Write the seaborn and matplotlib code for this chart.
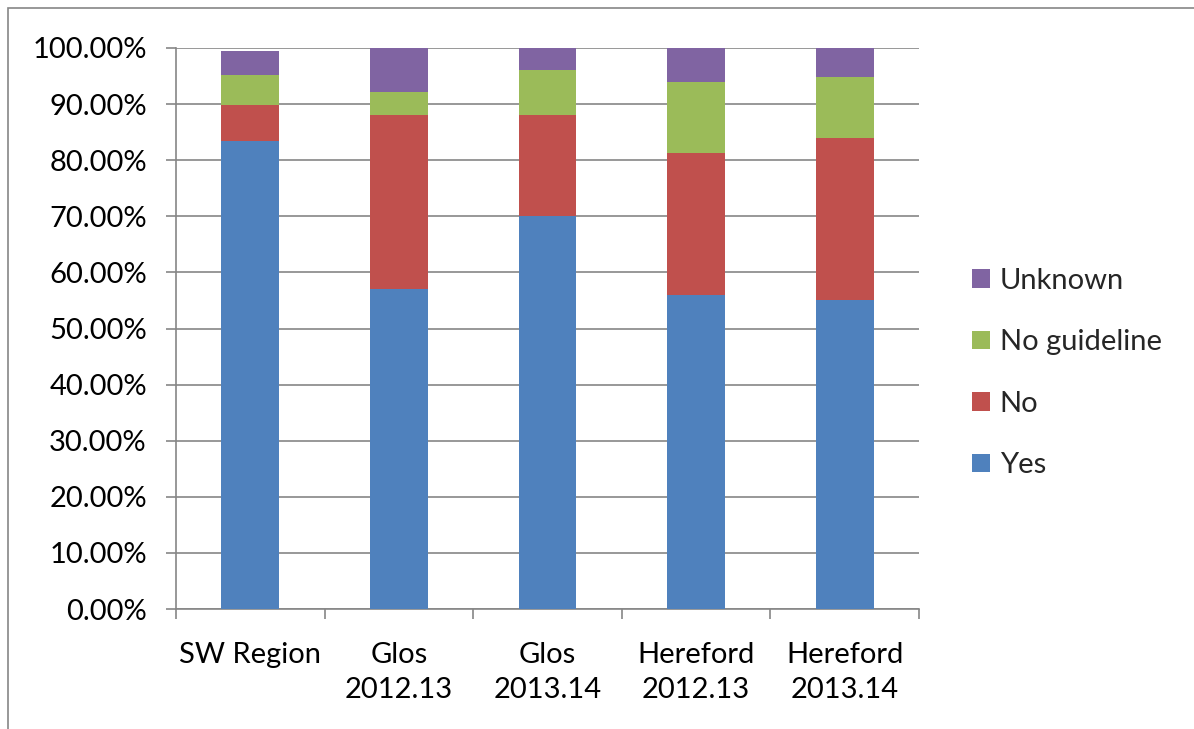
import matplotlib
matplotlib.use("Agg")
import matplotlib.pyplot as plt
import seaborn as sns
import pandas as pd
import numpy as np
from matplotlib.patches import Patch, Rectangle
from matplotlib.ticker import FuncFormatter, FixedLocator

categories = ["SW Region", "Glos\n2012.13", "Glos\n2013.14", "Hereford\n2012.13", "Hereford\n2013.14"]
yes = [83.4, 57.0, 70.0, 56.0, 55.0]
no = [6.4, 31.0, 18.0, 25.2, 29.0]
no_guideline = [5.4, 4.1, 8.1, 12.8, 10.9]
unknown = [4.3, 7.9, 3.9, 6.0, 5.1]
series_names = ["Yes", "No", "No guideline", "Unknown"]
colors = ["#4F81BD", "#C0504D", "#9BBB59", "#8064A2"]

sns.set_theme(style="white")
plt.rcParams["font.family"] = ["Lato", "DejaVu Sans"]

FS = 21

fig = plt.figure(figsize=(11.94, 7.29), dpi=100)
ax = fig.add_axes([176/1194, 1-609/729, (919-176)/1194, (609-48)/729])

series = [yes, no, no_guideline, unknown]
cum = np.cumsum(np.array(series), axis=0)
# draw tallest stacks first so each layer's visible part shows
for i in range(len(series) - 1, -1, -1):
    df = pd.DataFrame({"cat": categories, "val": cum[i]})
    sns.barplot(data=df, x="cat", y="val", color=colors[i], saturation=1,
                width=0.39, ax=ax, zorder=3, linewidth=0)

ax.set_ylim(0, 100)
ax.set_xlim(-0.5, 4.5)
ax.yaxis.set_major_locator(FixedLocator(np.arange(0, 101, 10)))
ax.yaxis.set_major_formatter(FuncFormatter(lambda v, p: f"{v:.2f}%"))
ax.grid(axis="y", color="#868686", linewidth=1.2, zorder=0)
ax.set_axisbelow(True)
ax.set_xlabel("")
ax.set_ylabel("")
for s in ["top", "right"]:
    ax.spines[s].set_visible(False)
for s in ["left", "bottom"]:
    ax.spines[s].set_color("#868686")
    ax.spines[s].set_linewidth(1.2)

ax.tick_params(axis="y", which="major", length=7, color="#868686", width=1.2,
               labelsize=FS, pad=14, left=True, direction="out", labelcolor="#000000")
ax.set_xticks(range(5))
ax.set_xticklabels(categories, fontsize=FS, linespacing=1.42)
ax.tick_params(axis="x", which="major", length=0, pad=24, labelcolor="#000000")
ax.set_xticks(np.arange(-0.5, 5, 1), minor=True)
ax.tick_params(axis="x", which="minor", length=7, color="#868686", width=1.2, bottom=True, direction="out")

handles = [Patch(facecolor=colors[i], edgecolor="none") for i in range(3, -1, -1)]
labels = [series_names[i] for i in range(3, -1, -1)]
leg = fig.legend(handles, labels, loc="center left", bbox_to_anchor=(972/1194, 1-373/729),
                 frameon=False, fontsize=FS, handlelength=0.6, handleheight=0.6,
                 handletextpad=0.35, labelspacing=1.22, borderaxespad=0, borderpad=0)

fig.patches.append(Rectangle((8/1194, -0.01), 1.2, 1 - 8/729 + 0.01, transform=fig.transFigure,
                             fill=False, edgecolor="#868686", linewidth=1.2))

fig.savefig("out.png", dpi=100)
